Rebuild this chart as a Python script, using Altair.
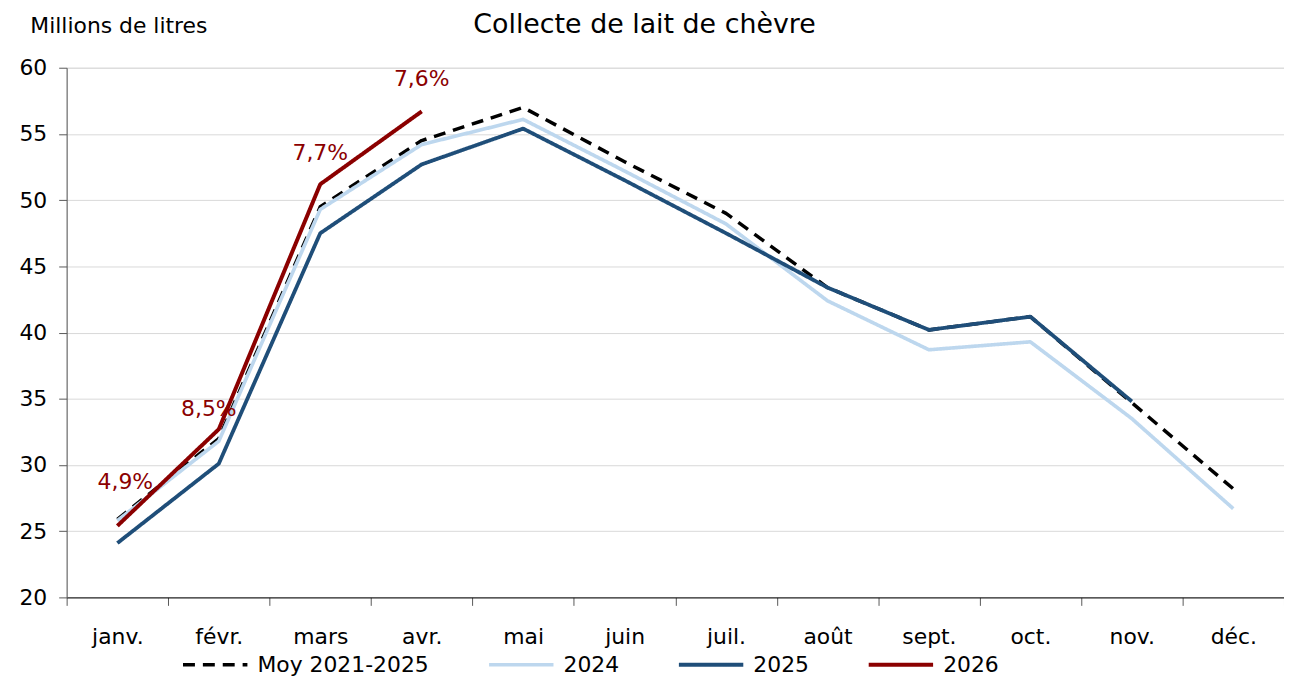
import altair as alt
import pandas as pd

months = ["janv.", "févr.", "mars", "avr.", "mai", "juin", "juil.", "août", "sept.", "oct.", "nov.", "déc."]
moy = [25.9, 32.0, 49.5, 54.5, 57.0, 52.9, 49.0, 43.4, 40.2, 41.2, 34.7, 28.2]
y2024 = [25.8, 31.8, 49.3, 54.2, 56.1, 52.2, 48.2, 42.4, 38.7, 39.3, 33.5, 26.7]
y2025 = [24.1, 30.1, 47.5, 52.7, 55.4, 51.5, 47.5, 43.4, 40.2, 41.2, 34.8]
y2026 = [25.4, 32.7, 51.2, 56.7]
labels2026 = ["4,9%", "8,5%", "7,7%", "7,6%"]

series_names = ["Moy 2021-2025", "2024", "2025", "2026"]
series_vals = [moy, y2024, y2025, y2026]

rows = []
for name, vals in zip(series_names, series_vals):
    for m, v in zip(months, vals):
        rows.append({"mois": m, "valeur": v, "serie": name})
df = pd.DataFrame(rows)

lab_df = pd.DataFrame({"mois": months[:4], "valeur": y2026, "label": labels2026})

FONT = "DejaVu Sans"
colors = ["#000000", "#BDD7EE", "#1F4E79", "#8B0000"]

xenc = alt.X("mois:N", sort=months,
             scale=alt.Scale(type="band", paddingInner=0, paddingOuter=0),
             axis=alt.Axis(title=None, tickBand="extent", grid=False, domainColor="#000000",
                           tickColor="#595959", tickSize=8, labelPadding=21, labelFontSize=22,
                           labelColor="#000000", labelAngle=0, domainWidth=1, labelFont=FONT))
yenc = alt.Y("valeur:Q", scale=alt.Scale(domain=[20, 60], nice=False, zero=False),
             axis=alt.Axis(values=list(range(20, 61, 5)), title="Millions de litres",
                           titleAngle=0, titleAlign="left", titleX=-37, titleY=-35,
                           titleBaseline="alphabetic", titleFontSize=22, titleFontWeight="normal",
                           titleColor="#000000", titleFont=FONT,
                           grid=True, gridColor="#D9D9D9", domainColor="#595959",
                           tickColor="#595959", tickSize=8, labelPadding=12,
                           labelFontSize=22, labelColor="#000000", labelFont=FONT))

legend = alt.Legend(title=None, orient="none", direction="horizontal",
                    legendX=115, legendY=566, symbolType="stroke",
                    symbolSize=4200, symbolStrokeWidth=4, labelFontSize=22,
                    labelColor="#000000", labelOffset=8, columnPadding=52,
                    labelLimit=400, labelFont=FONT)

lines = alt.Chart(df).mark_line(strokeCap="butt", strokeJoin="round").encode(
    x=xenc,
    y=yenc,
    color=alt.Color("serie:N", sort=series_names,
                    scale=alt.Scale(domain=series_names, range=colors),
                    legend=legend),
    strokeDash=alt.StrokeDash("serie:N", sort=series_names,
                              scale=alt.Scale(domain=series_names,
                                              range=[[12, 8], [1, 0], [1, 0], [1, 0]]),
                              legend=legend),
    strokeWidth=alt.StrokeWidth("serie:N", sort=series_names,
                                scale=alt.Scale(domain=series_names, range=[3.5, 4, 3.5, 3.5]),
                                legend=None),
)

offsets = [(8, -44), (-10, -20), (0, -31), (0, -33)]
label_layers = []
for (dx, dy), lab in zip(offsets, labels2026):
    label_layers.append(
        alt.Chart(lab_df).transform_filter(alt.datum.label == lab).mark_text(
            dx=dx, dy=dy, fontSize=22, color="#8B0000", font=FONT
        ).encode(x=alt.X("mois:N", sort=months), y="valeur:Q", text="label:N")
    )

chart = alt.layer(lines, *label_layers).properties(
    width=1225, height=533,
    autosize=alt.AutoSizeParams(type="none"),
    padding={"left": 59, "top": 58, "right": 0, "bottom": 78},
    title=alt.TitleParams("Collecte de lait de chèvre", fontSize=27, fontWeight="normal",
                          font=FONT, color="#000000", anchor="middle", dx=-31, dy=28),
).configure_view(stroke=None).configure(font=FONT)

chart.save("out.html", embed_options={"renderer": "svg", "actions": False})
